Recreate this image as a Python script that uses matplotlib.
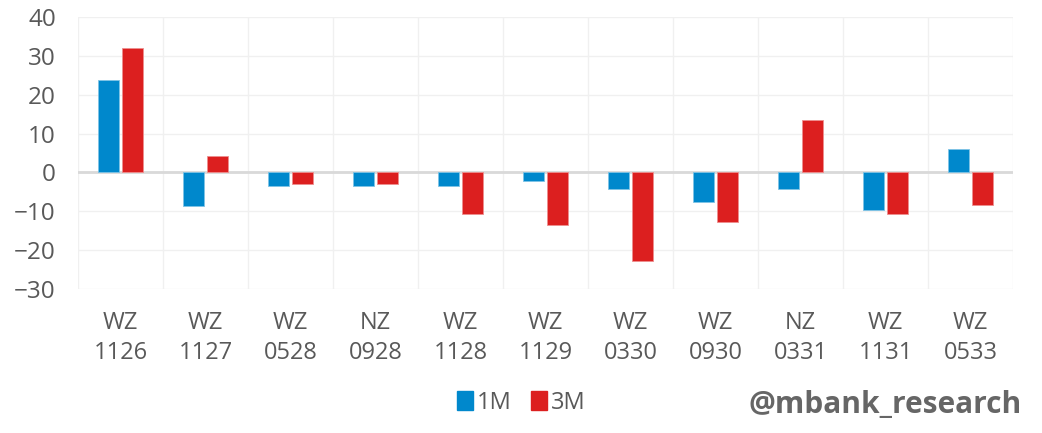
import matplotlib.pyplot as plt
import numpy as np
from matplotlib.patches import Patch

categories = ["WZ\n1126", "WZ\n1127", "WZ\n0528", "NZ\n0928", "WZ\n1128", "WZ\n1129",
              "WZ\n0330", "WZ\n0930", "NZ\n0331", "WZ\n1131", "WZ\n0533"]
m1 = [23.7, -8.6, -3.6, -3.6, -3.6, -2.1, -4.2, -7.5, -4.3, -9.7, 6.0]
m3 = [32.0, 4.3, -2.9, -2.9, -10.8, -13.6, -22.9, -12.8, 13.4, -10.7, -8.3]
series_names = ["1M", "3M"]
y_ticks = [-30, -20, -10, 0, 10, 20, 30, 40]

BLUE = "#0088cc"
RED = "#dc1f1f"
GREY = "#595959"

plt.rcParams["font.family"] = ["Open Sans", "DejaVu Sans"]

fig = plt.figure(figsize=(10.42, 4.33), dpi=100)
ax = fig.add_axes([0.0749, 0.3326, 0.8974, 0.6281])

x = np.arange(len(categories))
w = 0.247
off = 0.142
ax.bar(x - off, m1, w, color=BLUE, edgecolor="#7fc3e5", linewidth=0.6, zorder=3)
ax.bar(x + off, m3, w, color=RED, edgecolor="#ee8f8f", linewidth=0.6, zorder=3)

ax.set_xlim(-0.5, len(categories) - 0.5)
ax.set_ylim(-30, 40)
ax.set_yticks(y_ticks)
ax.set_xticks(x)
ax.set_xticklabels(categories, fontsize=17, color=GREY, linespacing=1.3)
ax.set_xticks(np.arange(-0.5, len(categories), 1), minor=True)
ax.tick_params(axis="y", labelsize=17.5, labelcolor=GREY, length=0, pad=16)
ax.tick_params(axis="x", which="both", length=0, pad=16)

ax.grid(axis="y", color="#f0f0f0", linewidth=1, zorder=0)
ax.grid(axis="x", which="minor", color="#f0f0f0", linewidth=1, zorder=0)
ax.axhline(0, color="#d9d9d9", linewidth=2, zorder=2)
for s in ax.spines.values():
    s.set_visible(False)

handles = [Patch(color=BLUE), Patch(color=RED)]
fig.legend(handles, series_names, loc="center", bbox_to_anchor=(0.5, 0.07),
           ncol=2, frameon=False, fontsize=17, labelcolor=GREY,
           handlelength=0.7, handleheight=0.9, handletextpad=0.15, columnspacing=0.8)

fig.text(0.981, 0.03, "@mbank_research", ha="right", va="bottom",
         fontsize=21.5, fontweight="bold", color="#666666")

fig.savefig("out.png", dpi=100)
